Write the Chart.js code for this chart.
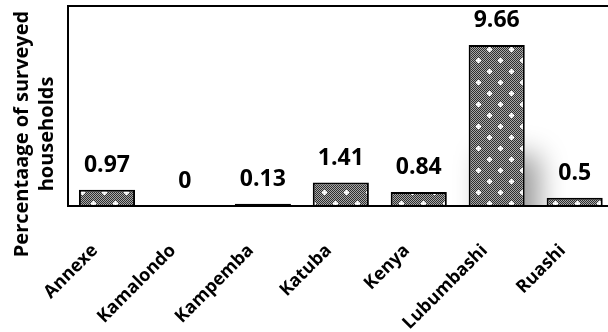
<!DOCTYPE html>
<html lang="en">
<head>
<meta charset="UTF-8">
<title>Households</title>
<script src="https://cdn.jsdelivr.net/npm/chart.js"></script>
<style>
    html, body { margin: 0; padding: 0; background: #fff; overflow: hidden; }
    #wrap { width: 608px; height: 332px; overflow: hidden; }
</style>
</head>
<body>
<div id="wrap">
    <canvas id="grafico" width="616" height="332"></canvas>
</div>

<script>
    const bairros = ['Annexe', 'Kamalondo', 'Kampemba', 'Katuba', 'Kenya', 'Lubumbashi', 'Ruashi'];
    const percentagens = [0.97, 0, 0.13, 1.41, 0.84, 9.66, 0.5];
    const tituloY = ['Percentaage of surveyed', 'households'];

    // dotted grey fill with little white crosses, like the original
    function criarPadrao() {
        const c = document.createElement('canvas');
        c.width = 22;
        c.height = 22;
        const g = c.getContext('2d');
        g.fillStyle = '#a8a8a8';
        g.fillRect(0, 0, 22, 22);
        g.fillStyle = '#2e2e2e';
        for (let y = 0; y < 22; y++) {
            for (let x = 0; x < 22; x++) {
                if ((x + y) % 2 == 0) g.fillRect(x, y, 1, 1);
            }
        }
        [[5, 5], [16, 16]].forEach(function (p) {
            g.fillStyle = '#dddddd';
            g.fillRect(p[0] - 2, p[1] - 1, 5, 3);
            g.fillRect(p[0] - 1, p[1] - 2, 3, 5);
            g.fillStyle = '#ffffff';
            g.fillRect(p[0] - 2, p[1], 5, 1);
            g.fillRect(p[0], p[1] - 2, 1, 5);
        });
        return document.getElementById('grafico').getContext('2d').createPattern(c, 'repeat');
    }

    // soft shadow to the lower right of the bars (the bar element clips itself, so draw it apart)
    const sombra = {
        id: 'sombra',
        beforeDatasetsDraw(chart) {
            const ctx = chart.ctx;
            const a = chart.chartArea;
            ctx.save();
            ctx.beginPath();
            ctx.rect(a.left, a.top, a.right - a.left, a.bottom - a.top);
            ctx.clip();
            ctx.shadowColor = 'rgba(0, 0, 0, 0.4)';
            ctx.shadowBlur = 28;
            ctx.shadowOffsetX = 14;
            ctx.shadowOffsetY = 110;
            ctx.fillStyle = '#ffffff';
            chart.getDatasetMeta(0).data.forEach(function (barra) {
                const p = barra.getProps(['x', 'y', 'base', 'width'], true);
                if (p.base - p.y < 1) return;
                ctx.fillRect(p.x - p.width / 2, p.y, p.width, p.base - p.y);
            });
            ctx.restore();
        }
    };

    const moldura = {
        id: 'moldura',
        afterDraw(chart) {
            const a = chart.chartArea;
            const ctx = chart.ctx;
            ctx.save();
            ctx.strokeStyle = '#000';
            ctx.lineWidth = 2;
            ctx.strokeRect(a.left, a.top, a.right - a.left, a.bottom - a.top);

            // y title, two lines
            ctx.fillStyle = '#000';
            ctx.font = 'bold 20px "Open Sans"';
            ctx.textAlign = 'center';
            ctx.textBaseline = 'alphabetic';
            tituloY.forEach(function (linha, i) {
                ctx.save();
                ctx.translate(a.left - 40 + i * 25, a.bottom - 72);
                ctx.rotate(-Math.PI / 2);
                ctx.fillText(linha, 0, 0);
                ctx.restore();
            });
            ctx.restore();
        }
    };

    const rotulos = {
        id: 'rotulos',
        afterDatasetsDraw(chart) {
            const ctx = chart.ctx;
            const meta = chart.getDatasetMeta(0);
            ctx.save();
            ctx.fillStyle = '#000';
            ctx.font = 'bold 23px "Open Sans"';
            ctx.textAlign = 'center';
            ctx.textBaseline = 'alphabetic';
            meta.data.forEach(function (barra, i) {
                ctx.fillText(String(percentagens[i]), barra.x, barra.y - 18);
            });
            ctx.restore();
        }
    };

    const config = {
        type: 'bar',
        data: {
            labels: bairros,
            datasets: [{
                data: percentagens,
                backgroundColor: criarPadrao(),
                borderColor: '#000',
                borderWidth: 2,
                borderSkipped: 'bottom',
                categoryPercentage: 1,
                barPercentage: 0.72
            }]
        },
        options: {
            responsive: false,
            animation: false,
            layout: { padding: { left: 60, right: 1, top: 6, bottom: 0 } },
            plugins: {
                legend: { display: false },
                tooltip: { enabled: false }
            },
            scales: {
                x: {
                    grid: { display: false },
                    border: { display: true, color: '#000', width: 2 },
                    ticks: {
                        color: '#000',
                        font: { family: 'Open Sans', size: 18, weight: 'bold' },
                        minRotation: 45,
                        maxRotation: 45,
                        labelOffset: -12,
                        padding: 26
                    },
                    afterFit(scale) {
                        scale.height = 126;
                    }
                },
                y: {
                    min: 0,
                    max: 12,
                    grid: { display: false },
                    border: { display: true, color: '#000', width: 2 },
                    ticks: { display: false }
                }
            }
        },
        plugins: [sombra, moldura, rotulos]
    };

    const grafico = new Chart(document.getElementById('grafico'), config);
</script>
</body>
</html>
